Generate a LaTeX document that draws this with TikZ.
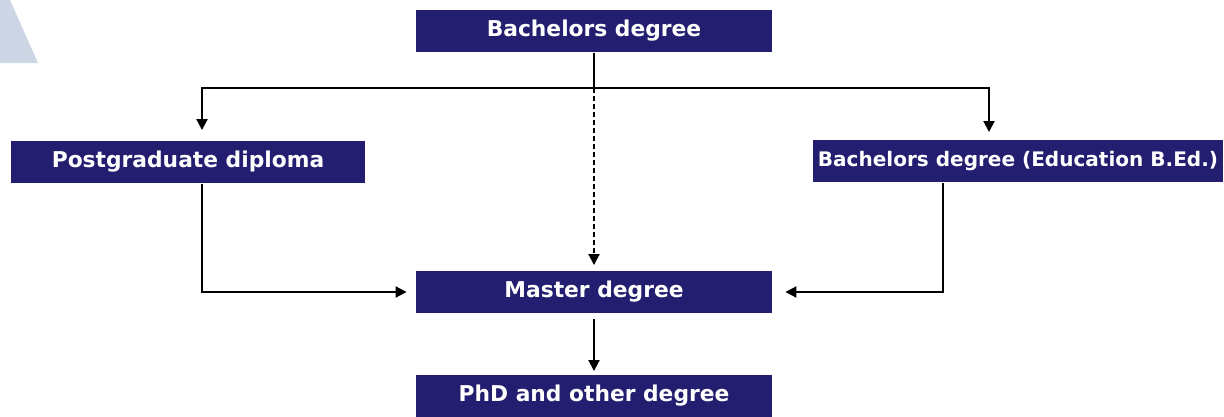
\documentclass[tikz,border=0pt]{standalone}
\usepackage{fontspec}
\setmainfont{DejaVu Sans}
\usetikzlibrary{arrows.meta,positioning}
\definecolor{degreeblue}{RGB}{36,30,112}
\definecolor{cornerblue}{RGB}{205,214,228}
\tikzset{degree/.style={fill=degreeblue, text=white, font=\bfseries\fontsize{12.4}{14}\selectfont, minimum height=0.84cm, inner sep=0pt}}

\begin{document}
\begin{tikzpicture}[x=0.02cm, y=-0.02cm, >={Triangle[length=2.2mm,width=2.2mm]}, line width=1.1pt]
  \useasboundingbox (0,0) rectangle (1224,416);
  \fill[cornerblue] (0,0) -- (10,0) -- (38,63) -- (0,63) -- cycle;

  \node[degree, minimum width=7.12cm] (bach) at (594,31) {Bachelors degree};
  \node[degree, minimum width=7.1cm] (pg) at (188,162) {Postgraduate diploma};
  \node[degree, minimum width=8.2cm, font=\bfseries\fontsize{11.4}{14}\selectfont] (bed) at (1018,161) {Bachelors degree (Education B.Ed.)};
  \node[degree, minimum width=7.14cm] (master) at (594,292) {Master degree};
  \node[degree, minimum width=7.14cm] (phd) at (594,396) {PhD and other degree};

  \coordinate (split) at (594,88);
  \coordinate (pgturn) at (202,88);
  \coordinate (edturn) at (989,88);
  \coordinate (pgleg) at (202,293);
  \coordinate (edleg) at (943,292);

  \draw (bach) -- (split);
  \draw[->, shorten >=0.2cm] (split) -- (pgturn) -- (pgturn |- pg.north);
  \draw[->, shorten >=0.14cm] (split) -- (edturn) -- (edturn |- bed.north);
  \draw[->, dash pattern=on 0.1cm off 0.06cm, shorten >=0.1cm] (split) -- (master);
  \draw[->, shorten >=0.16cm] (pgleg |- pg.south) -- (pgleg |- master.west) -- (master.west);
  \draw[->, shorten >=0.24cm] (edleg |- bed.south) -- (edleg |- master.east) -- (master.east);
  \draw[->, shorten <=0.1cm, shorten >=0.06cm] (master) -- (phd);
\end{tikzpicture}
\end{document}
